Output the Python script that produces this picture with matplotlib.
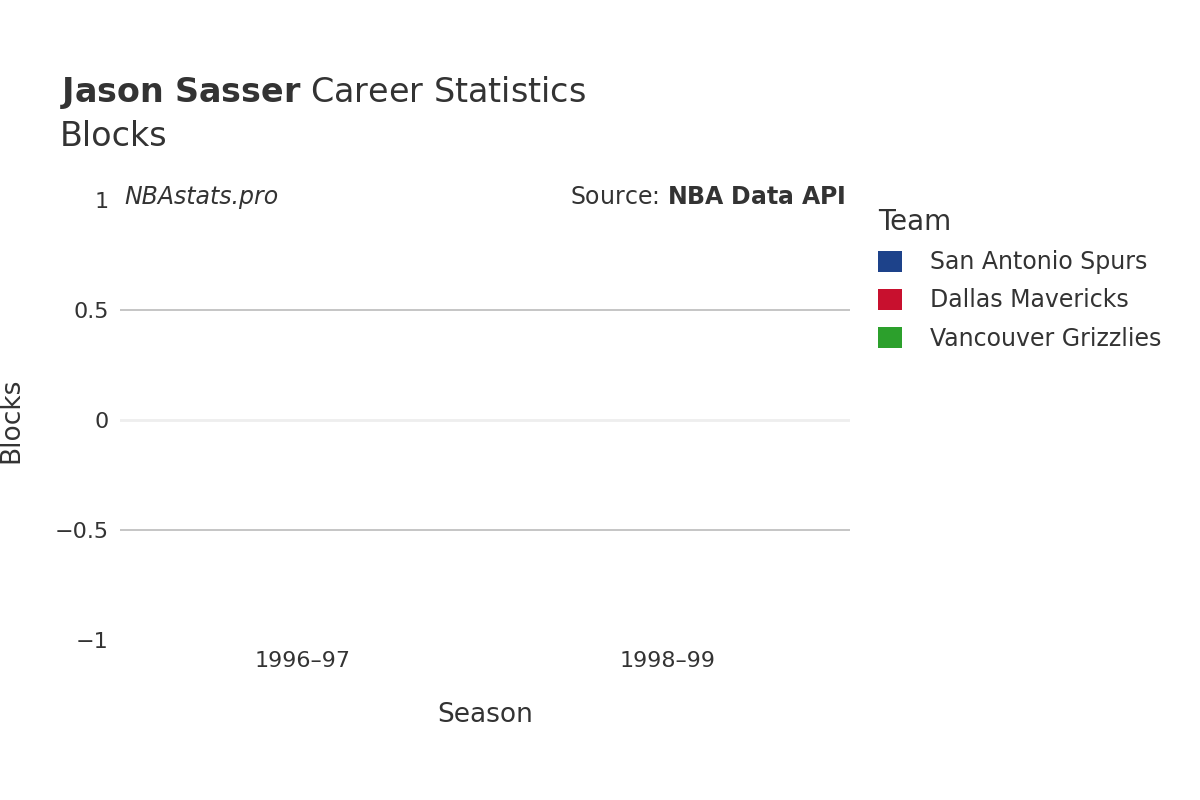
import matplotlib.pyplot as plt
import numpy as np

seasons = ["1996–97", "1998–99"]
teams = ["San Antonio Spurs", "Dallas Mavericks", "Vancouver Grizzlies"]
team_colors = ["#1d428a", "#c8102e", "#2ca02c"]
blocks = {
    "San Antonio Spurs": [0, None],
    "Dallas Mavericks": [None, 0],
    "Vancouver Grizzlies": [None, 0],
}

fig = plt.figure(figsize=(12, 8), dpi=100)
ax = fig.add_axes([0.1, 0.2, 0.608, 0.55])
x = np.arange(len(seasons))
width = 0.27
for i, team in enumerate(teams):
    xs = [x[j] + (i - 1) * width for j, v in enumerate(blocks[team]) if v is not None]
    vs = [v for v in blocks[team] if v is not None]
    ax.bar(xs, vs, width=width, color=team_colors[i], label=team)

ax.set_xlim(-0.5, 1.5)
ax.set_ylim(-1, 1)
ax.set_yticks([-1, -0.5, 0, 0.5, 1])
ax.set_yticklabels(["−1", "−0.5", "0", "0.5", "1"])
ax.set_xticks(x)
ax.set_xticklabels(seasons)
for y in (-0.5, 0.5):
    ax.axhline(y, color="#bbbbbb", lw=1.2, zorder=0)
ax.axhline(0, color="#eeeeee", lw=2, zorder=0)
for s in ax.spines.values():
    s.set_visible(False)
ax.tick_params(length=0, labelsize=16, colors="#333333", pad=8)
ax.set_xlabel("Season", fontsize=19, color="#333333", labelpad=22)
ax.set_ylabel("Blocks", fontsize=19, color="#333333", labelpad=22)

fig.text(0.05, 0.872, r"$\bf{Jason\ Sasser}$ Career Statistics", fontsize=24, color="#333333")
fig.text(0.05, 0.818, "Blocks", fontsize=24, color="#333333")
fig.text(0.104, 0.745, "NBAstats.pro", fontsize=17, style="italic", color="#333333")
fig.text(0.705, 0.745, r"Source: $\bf{NBA\ Data\ API}$", fontsize=17, color="#333333", ha="right")

leg = ax.legend(loc="upper left", bbox_to_anchor=(1.01, 1.03), frameon=False, fontsize=17,
                title="Team", title_fontsize=20, handlelength=1.0, handleheight=1.0,
                labelspacing=0.6, handletextpad=1.2, alignment="left")
for t in leg.get_texts():
    t.set_color("#333333")
leg.get_title().set_color("#333333")

fig.savefig("out.png")
